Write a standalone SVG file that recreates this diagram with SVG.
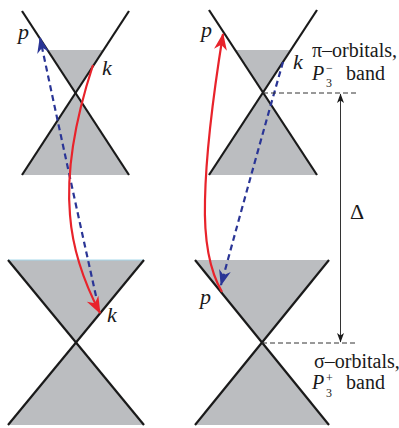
<svg xmlns="http://www.w3.org/2000/svg" width="399" height="428" viewBox="0 0 399 428">
<defs>
<style>
.fill{fill:#bbbdc0;stroke:none}
.edge{stroke:#1a1a1a;stroke-width:2.2;fill:none;stroke-linecap:butt}
.lbl{font-family:"Liberation Serif","Times New Roman",serif;font-style:italic;font-size:22px;fill:#1a1a1a}
.txt{font-family:"Liberation Serif","Times New Roman",serif;font-size:20px;fill:#1a1a1a}
.big{font-family:"Liberation Serif","Times New Roman",serif;font-size:22px;fill:#1a1a1a}
.it{font-family:"Liberation Serif","Times New Roman",serif;font-size:20px;font-style:italic;fill:#1a1a1a}
.sub{font-family:"Liberation Serif","Times New Roman",serif;font-size:12px;fill:#1a1a1a}
.red{stroke:#e8232b;stroke-width:2.2;fill:none}
.blue{stroke:#2a3596;stroke-width:2.2;fill:none;stroke-dasharray:6 4}
.guide{stroke:#333;stroke-width:1;fill:none;stroke-dasharray:5 3}
.axis{stroke:#333;stroke-width:1;fill:none}
</style>
<marker id="ahRed" markerUnits="userSpaceOnUse" markerWidth="20" markerHeight="16" viewBox="-17 -8 20 16" refX="0" refY="0" orient="auto">
<path d="M1,0 L-16,-6.5 L-11,0 L-16,6.5 Z" fill="#e8232b" stroke="none"/>
</marker>
<marker id="ahBlue" markerUnits="userSpaceOnUse" markerWidth="20" markerHeight="16" viewBox="-17 -8 20 16" refX="0" refY="0" orient="auto">
<path d="M1,0 L-15,-6 L-10,0 L-15,6 Z" fill="#2a3596" stroke="none"/>
</marker>
<marker id="ahBlk" markerUnits="userSpaceOnUse" markerWidth="12" markerHeight="10" viewBox="-11 -5 12 10" refX="0" refY="0" orient="auto-start-reverse">
<path d="M0.5,0 L-9,-3.5 L-6.5,0 L-9,3.5 Z" fill="#1a1a1a" stroke="none"/>
</marker>
</defs>

<g id="cone-top-left">
<polygon class="fill" points="47.4,50 103.6,50 75.5,93"/>
<polygon class="fill" points="75.5,93 129,175 22,175"/>
<line class="edge" x1="22" y1="11" x2="129" y2="175"/>
<line class="edge" x1="129" y1="11" x2="22" y2="175"/>
</g>

<g id="cone-bottom-left">
<polygon class="fill" points="8,260 144,260 76,343"/>
<polygon class="fill" points="76,343 144,425 8,425"/>
<line x1="8" y1="260" x2="144" y2="260" stroke="#a6d8ea" stroke-width="1"/>
<line class="edge" x1="8" y1="260" x2="144" y2="425"/>
<line class="edge" x1="144" y1="260" x2="8" y2="425"/>
</g>

<g id="cone-top-right">
<polygon class="fill" points="235,50 291,50 263,93"/>
<polygon class="fill" points="263,93 317,175 209,175"/>
<line class="edge" x1="209" y1="10" x2="317" y2="175"/>
<line class="edge" x1="317" y1="10" x2="209" y2="175"/>
</g>

<g id="cone-bottom-right">
<polygon class="fill" points="195,260 329,260 262,343"/>
<polygon class="fill" points="262,343 329,425 195,425"/>
<line class="edge" x1="195" y1="260" x2="329" y2="425"/>
<line class="edge" x1="329" y1="260" x2="195" y2="425"/>
</g>

<g id="connectors">
<path class="blue" d="M96,296 Q68,170 40,38" marker-end="url(#ahBlue)"/>
<path class="red" d="M93,65 C75,120 66,170 70,215 C73,255 88,290 100,313" marker-end="url(#ahRed)"/>
<path class="red" d="M222,292 C208,268 204,235 205,200 C206,150 214,90 223,34" marker-end="url(#ahRed)"/>
<path class="blue" d="M283,62 Q255,160 221,285" marker-end="url(#ahBlue)"/>
<line class="guide" x1="263" y1="93" x2="358" y2="93"/>
<line class="guide" x1="262" y1="343" x2="358" y2="343"/>
<line class="axis" x1="340.5" y1="94" x2="340.5" y2="342" marker-start="url(#ahBlk)" marker-end="url(#ahBlk)"/>
</g>

<g id="labels">
<text class="lbl" x="18" y="39">p</text>
<text class="lbl" x="102" y="75">k</text>
<text class="lbl" x="107" y="322">k</text>
<text class="lbl" x="201" y="37">p</text>
<text class="lbl" x="293" y="69">k</text>
<text class="lbl" x="200" y="304">p</text>
<text class="big" x="350" y="219">Δ</text>
</g>

<g id="band-top">
<text class="txt" x="312" y="57">π–orbitals,</text>
<text class="it" x="312" y="80">P</text>
<text class="sub" x="326" y="87">3</text>
<text class="sub" x="326" y="72">−</text>
<text class="txt" x="346" y="80">band</text>
</g>

<g id="band-bottom">
<text class="txt" x="314" y="368">σ–orbitals,</text>
<text class="it" x="312" y="389">P</text>
<text class="sub" x="326" y="397">3</text>
<text class="sub" x="326" y="382">+</text>
<text class="txt" x="346" y="389">band</text>
</g>
</svg>
